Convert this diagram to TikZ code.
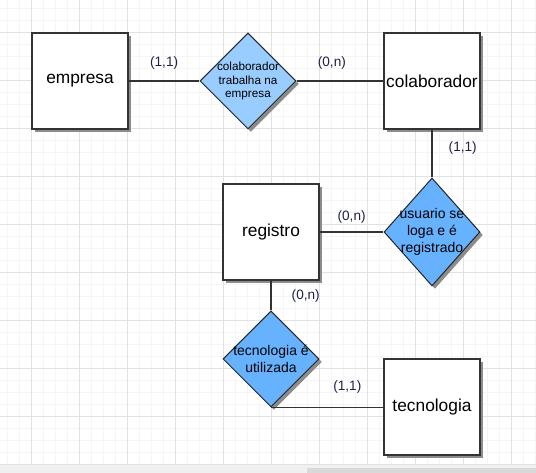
\documentclass[tikz,border=0pt]{standalone}
\usepackage{fontspec}
\setmainfont{Liberation Sans}
\usepackage{xcolor}
\usetikzlibrary{shapes,positioning,shadows}

\definecolor{relclara}{HTML}{99CCFF}
\definecolor{relescura}{HTML}{66B2FF}
\definecolor{cardcor}{HTML}{202048}
\definecolor{gradefina}{HTML}{F5F5F5}
\definecolor{gradegrossa}{HTML}{E2E2E2}

\begin{document}
\begin{tikzpicture}[x=0.75pt, y=-0.75pt,
    entidade/.style={rectangle,draw=black!80,line width=1.1pt,fill=white,minimum size=72pt,inner sep=0pt,font=\fontsize{13}{15}\selectfont,drop shadow={shadow xshift=2.2pt,shadow yshift=-2.2pt,fill=black!45,opacity=1}},
    relacao/.style={diamond,draw=black!85,line width=0.75pt,fill=relescura,minimum width=72pt,minimum height=72pt,inner sep=-7pt,align=center,font=\fontsize{10.5}{13}\selectfont,drop shadow={shadow xshift=2.2pt,shadow yshift=-2.2pt,fill=black!45,opacity=1}},
    card/.style={font=\fontsize{10.2}{12}\selectfont,text=cardcor,inner sep=0pt},
    linha/.style={line width=1.1pt,draw=black!80}]
    \useasboundingbox (0,0) rectangle (536,473);

    % Background grid
    \foreach \gx in {7,19,...,535} \draw[gradefina, line width=0.75pt] (\gx,0) -- (\gx,465);
    \foreach \gy in {9,21,...,465} \draw[gradefina, line width=0.75pt] (0,\gy) -- (536,\gy);
    \foreach \gx in {31,79,...,511} \draw[gradegrossa, line width=0.75pt] (\gx,0) -- (\gx,465);
    \foreach \gy in {33,81,...,465} \draw[gradegrossa, line width=0.75pt] (0,\gy) -- (536,\gy);
    \fill[black!6] (0,465) rectangle (536,473);
    \fill[black!15] (307,468) rectangle (536,473);

    % Entities and relationships
    \node[entidade] (empresa) at (80,81) {empresa};
    \node[relacao, fill=relclara, font=\fontsize{8.8}{10}\selectfont] (trabalha) [right of=empresa, node distance=126pt] {colaborador\\trabalha na\\empresa};
    \node[entidade] (colaborador) [right of=trabalha, node distance=138pt] {colaborador};
    \node[relacao, minimum height=81pt] (loga) [below of=colaborador, node distance=113.25pt] {usuario se\\loga e é\\registrado};
    \node[entidade] (registro) [left of=loga, node distance=120.75pt] {registro};
    \node[relacao] (utilizada) [below of=registro, node distance=95.25pt] {tecnologia é\\utilizada};
    \node[entidade] (tecnologia) at (432,407) {tecnologia};

    % Connectors with cardinalities
    \draw[linha] (empresa) -- node[card, above=8pt] {(1,1)} (trabalha);
    \draw[linha] (trabalha) -- node[card, above=8pt, xshift=-6pt] {(0,n)} (colaborador);
    \draw[linha] (colaborador) -- node[card, pos=0.39, right=12pt] {(1,1)} (loga);
    \draw[linha] (registro) -- node[card, above=6pt] {(0,n)} (loga);
    \draw[linha] (registro) -- node[card, right=15pt] {(0,n)} (utilizada);
    \draw[linha] (utilizada.south) -- node[card, pos=0.68, above=10pt] {(1,1)} (utilizada.south -| tecnologia.west);
\end{tikzpicture}
\end{document}
